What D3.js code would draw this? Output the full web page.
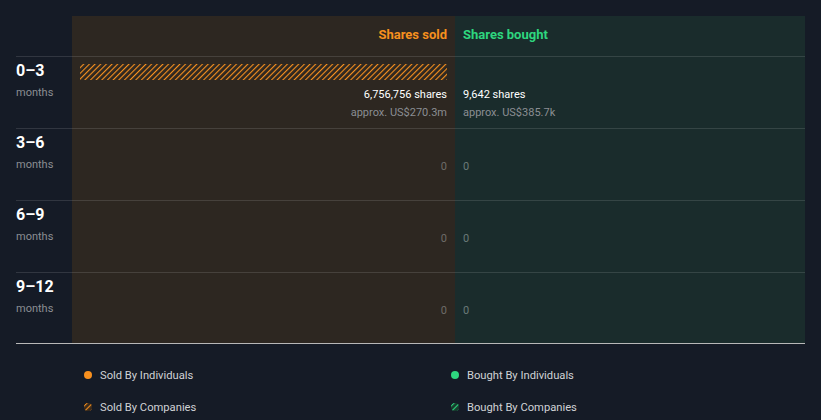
<!DOCTYPE html>
<html><head><meta charset="utf-8">
<script src="https://cdn.jsdelivr.net/npm/d3@7"></script>
<style>
html,body{margin:0;padding:0;background:#151b26;}
svg{display:block;font-family:Roboto,"Noto Sans",sans-serif;}
</style></head>
<body>
<svg id="chart" width="821" height="420"></svg>
<script>
const periods = ["0\u20133","3\u20136","6\u20139","9\u201312"];
const periodUnit = ["months","months","months","months"];
const soldShares = [6756756, 0, 0, 0];
const soldValue = ["approx. US$270.3m", null, null, null];
const boughtShares = [9642, 0, 0, 0];
const boughtValue = ["approx. US$385.7k", null, null, null];
const legendItems = ["Sold By Individuals","Bought By Individuals","Sold By Companies","Bought By Companies"];

const svg = d3.select("#chart");
const topY = 16, headerH = 40, rowH = 72;
const leftX = 72, midX = 455, rightX = 805;
const ORANGE = "#f7901e", GREEN = "#2ed67f";

const y = d3.scaleBand().domain(periods).range([topY+headerH, topY+headerH+rowH*periods.length]).padding(0);
const maxV = d3.max(soldShares.concat(boughtShares));
const xSold = d3.scaleLinear().domain([0, maxV]).range([447, 80]);
const xBought = d3.scaleLinear().domain([0, maxV]).range([463, 797]);

const defs = svg.append("defs");
function hatch(id, color, size){
  const p = defs.append("pattern").attr("id", id).attr("patternUnits","userSpaceOnUse")
    .attr("width", size).attr("height", size).attr("patternTransform","rotate(45)");
  p.append("rect").attr("x",0).attr("y",0).attr("width",1.1).attr("height",size).attr("fill",color);
}
hatch("hatchO", ORANGE, 4);
hatch("hatchG", GREEN, 4);

// panels
svg.append("rect").attr("x",leftX).attr("y",topY).attr("width",midX-leftX).attr("height",y.range()[1]-topY).attr("fill","#2d2721");
svg.append("rect").attr("x",midX).attr("y",topY).attr("width",rightX-midX).attr("height",y.range()[1]-topY).attr("fill","#1a2c2c");

// headers
svg.append("text").attr("x",447).attr("y",topY+23).attr("text-anchor","end").attr("fill",ORANGE)
  .attr("font-size",13).attr("font-weight",700).text("Shares sold");
svg.append("text").attr("x",463).attr("y",topY+23).attr("fill",GREEN)
  .attr("font-size",13).attr("font-weight",700).text("Shares bought");

// row separators
periods.forEach(p=>{
  svg.append("line").attr("x1",16).attr("x2",rightX).attr("y1",y(p)+0.5).attr("y2",y(p)+0.5)
    .attr("stroke","#ffffff").attr("stroke-opacity",0.12).attr("stroke-width",1);
});
// bottom axis line
svg.append("line").attr("x1",16).attr("x2",rightX).attr("y1",y.range()[1]-0.5).attr("y2",y.range()[1]-0.5)
  .attr("stroke","#b8b8b8").attr("stroke-width",1);

// row labels
const rows = svg.selectAll("g.row").data(periods).join("g").attr("class","row");
rows.append("text").attr("x",16).attr("y",p=>y(p)+20).attr("fill","#ffffff").attr("font-size",16).attr("font-weight",700).text(p=>p);
rows.append("text").attr("x",16).attr("y",(p,i)=>y(p)+40).attr("fill","#8b8e93").attr("font-size",11).text((p,i)=>periodUnit[i]);

// sold bars (sub-pixel widths are dropped, as in the original)
svg.selectAll("rect.sold").data(soldShares).join("rect").attr("class","sold")
  .attr("x",d=>xSold(d)).attr("width",d=>Math.floor(xSold(0)-xSold(d)))
  .attr("y",(d,i)=>y(periods[i])+8).attr("height",16).attr("fill","url(#hatchO)");
svg.selectAll("rect.bought").data(boughtShares).join("rect").attr("class","bought")
  .attr("x",xBought(0)).attr("width",d=>Math.floor(xBought(d)-xBought(0)))
  .attr("y",(d,i)=>y(periods[i])+8).attr("height",16).attr("fill","url(#hatchG)");

// value labels
const fmt = d3.format(",");
soldShares.forEach((v,i)=>{
  const y0 = y(periods[i]);
  if(v>0){
    svg.append("text").attr("x",447).attr("y",y0+42).attr("text-anchor","end").attr("fill","#ffffff").attr("font-size",11).text(fmt(v)+" shares");
    svg.append("text").attr("x",447).attr("y",y0+60).attr("text-anchor","end").attr("fill","#8b8e93").attr("font-size",11).text(soldValue[i]);
  } else {
    svg.append("text").attr("x",447).attr("y",y0+42).attr("text-anchor","end").attr("fill","#6d6c69").attr("font-size",11).text("0");
  }
});
boughtShares.forEach((v,i)=>{
  const y0 = y(periods[i]);
  if(v>0){
    svg.append("text").attr("x",463).attr("y",y0+42).attr("fill","#ffffff").attr("font-size",11).text(fmt(v)+" shares");
    svg.append("text").attr("x",463).attr("y",y0+60).attr("fill","#8b8e93").attr("font-size",11).text(boughtValue[i]);
  } else {
    svg.append("text").attr("x",463).attr("y",y0+42).attr("fill","#6b7a79").attr("font-size",11).text("0");
  }
});

// legend
const legendPos = [[88,375],[455,375],[88,407],[455,407]];
const legendFill = [ORANGE, GREEN, "url(#hatchO)", "url(#hatchG)"];
const lg = svg.selectAll("g.leg").data(legendItems).join("g").attr("class","leg")
  .attr("transform",(d,i)=>`translate(${legendPos[i][0]},${legendPos[i][1]})`);
lg.each(function(d,i){
  const g = d3.select(this);
  if(i>=2){
    g.append("circle").attr("r",4).attr("fill", i===2 ? "#3a2a1a" : "#173a2c");
  }
  g.append("circle").attr("r",4).attr("fill",legendFill[i]);
});
lg.append("text").attr("x",12).attr("y",4).attr("fill","#d0d2d5").attr("font-size",11.2).text(d=>d);
</script>
</body></html>
